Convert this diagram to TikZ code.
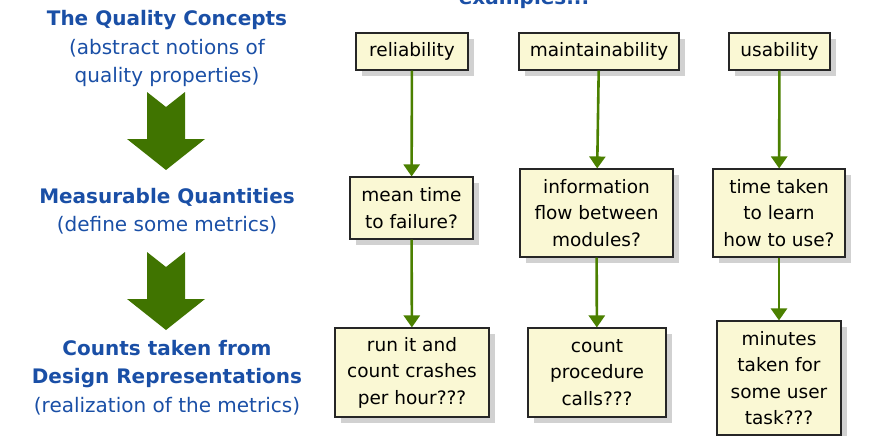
\documentclass[tikz,border=0pt]{standalone}
\usepackage{fontspec}
\setmainfont{DejaVu Sans}
\usetikzlibrary{arrows.meta,shadows}
\definecolor{QBlue}{HTML}{1A4FA6}
\definecolor{QGreen}{HTML}{407400}
\definecolor{QLine}{HTML}{4B8000}
\definecolor{QBox}{HTML}{FAF8D4}
\tikzset{
  qbox/.style={draw=black!85,line width=1.1pt,fill=QBox,align=center,inner sep=2pt,
    font=\fontsize{18.5}{26.5}\selectfont,
    drop shadow={shadow xshift=6pt,shadow yshift=-6pt,fill=black!30,opacity=.6}},
  qtext/.style={text=QBlue,align=center,font=\fontsize{20}{28.5}\selectfont},
  link/.style={draw=QLine,line width=2.6pt,-{Triangle[width=16pt,length=12pt]}},
  bigarrow/.style={fill=QGreen,draw=none}
}
\begin{document}
\begin{tikzpicture}[x=1pt,y=-1pt]
\useasboundingbox (0,0) rectangle (873,436);
% left column
\node[qtext] (concepts) at (167,48.5) {\textbf{The Quality Concepts}\\(abstract notions of\\quality properties)};
\node[qtext] (measures) at (167,211) {\textbf{Measurable Quantities}\\(define some metrics)};
\node[qtext] (counts) at (167,377.5) {\textbf{Counts taken from}\\\textbf{Design Representations}\\(realization of the metrics)};
\node[qtext,font=\fontsize{20}{24}\selectfont\bfseries,anchor=base] (examples) at (524,5) {examples...};
% block arrows
\foreach \t in {92,252}
{
  \fill[bigarrow] (147,\t) -- (166,\t+15) -- (185,\t) -- (185,\t+47) -- (205,\t+47)
    -- (166,\t+78) -- (127,\t+47) -- (147,\t+47) -- cycle;
}
% quality concepts
\node[qbox,minimum width=112pt,minimum height=37pt] (rel) at (412,51.5) {reliability};
\node[qbox,minimum width=160pt,minimum height=37pt] (maint) at (599,51.5) {maintainability};
\node[qbox,minimum width=101pt,minimum height=37pt] (usab) at (779.5,51.5) {usability};
% metrics
\node[qbox,minimum width=123pt,minimum height=62pt] (mttf) at (411.5,208) {mean time\\to failure?};
\node[qbox,minimum width=153pt,minimum height=88pt] (flow) at (596.5,213) {information\\flow between\\modules?};
\node[qbox,minimum width=132pt,minimum height=88pt] (learn) at (779,213) {time taken\\to learn\\how to use?};
% counts
\node[qbox,minimum width=154pt,minimum height=89pt] (crash) at (412,372.5) {run it and\\count crashes\\per hour???};
\node[qbox,minimum width=138pt,minimum height=89pt] (calls) at (597,372.5) {count\\procedure\\calls???};
\node[qbox,minimum width=124pt,minimum height=114pt] (mins) at (779,378) {minutes\\taken for\\some user\\task???};
% connectors
\draw[link] (rel) -- (mttf);
\draw[link] (maint) -- (flow);
\draw[link] (usab) -- (learn);
\draw[link] (mttf) -- (crash);
\draw[link] (flow) -- (calls);
\draw[link] (learn) -- (mins);
\end{tikzpicture}
\end{document}
